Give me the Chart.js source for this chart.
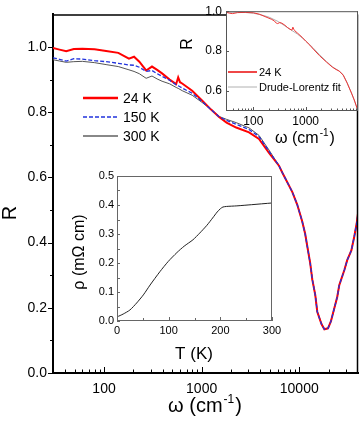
<!DOCTYPE html>
<html>
<head>
<meta charset="utf-8">
<script src="https://cdn.jsdelivr.net/npm/chart.js@4.4.0/dist/chart.umd.min.js"></script>
<style>
  html, body { margin: 0; padding: 0; background: #fff; }
  #wrap { position: relative; width: 360px; height: 434px; overflow: hidden; }
  #wrap canvas { position: absolute; }
</style>
</head>
<body>
<div id="wrap">
  <canvas id="main" width="360" height="434" style="left:0;top:0"></canvas>
  <canvas id="inset-r" width="180" height="150" style="left:180px;top:0"></canvas>
  <canvas id="inset-rho" width="230" height="200" style="left:60px;top:165px"></canvas>
</div>
<script>
const FONT = "'Liberation Sans', Arial, sans-serif";
Chart.defaults.font.family = FONT;
Chart.defaults.color = '#000';
Chart.defaults.animation = false;

// --- main panel: R(omega) at three temperatures ---
const omegaLow = [30, 35, 41, 49, 60, 80, 105, 140, 180, 203, 230, 270, 310, 350, 393, 470, 548, 575, 600, 632, 800, 1010, 1250, 1510, 1800, 2260, 3060, 3870, 4900];
const r24Low   = [0.997, 0.992, 0.987, 0.994, 0.995, 0.993, 0.988, 0.982, 0.964, 0.970, 0.955, 0.928, 0.940, 0.930, 0.919, 0.900, 0.886, 0.907, 0.892, 0.888, 0.866, 0.836, 0.808, 0.785, 0.768, 0.753, 0.738, 0.718, 0.675];
const r150Low  = [0.967, 0.962, 0.957, 0.964, 0.963, 0.958, 0.955, 0.950, 0.945, 0.944, 0.938, 0.925, 0.928, 0.918, 0.910, 0.898, 0.884, 0.881, 0.878, 0.874, 0.858, 0.833, 0.808, 0.786, 0.775, 0.763, 0.747, 0.725, 0.680];
const r300Low  = [0.961, 0.957, 0.953, 0.955, 0.956, 0.952, 0.946, 0.940, 0.930, 0.925, 0.918, 0.904, 0.911, 0.902, 0.895, 0.887, 0.876, 0.873, 0.870, 0.866, 0.852, 0.830, 0.808, 0.787, 0.778, 0.768, 0.752, 0.729, 0.684];
// above ~6000 cm-1 the three curves lie on top of each other
const omegaHigh = [6200, 6700, 8500, 9550, 10700, 11500, 12100, 12950, 13600, 14600, 15300, 16900, 18100, 19700, 21100, 22800, 24500, 25700, 29000, 31000, 34200, 36600, 38700, 40000];
const rHigh     = [0.636, 0.615, 0.555, 0.516, 0.466, 0.427, 0.388, 0.337, 0.287, 0.239, 0.188, 0.150, 0.134, 0.137, 0.158, 0.197, 0.233, 0.269, 0.316, 0.346, 0.376, 0.418, 0.457, 0.490];
const mainXTicks = [30, 40, 50, 60, 70, 80, 90, 100, 200, 300, 400, 500, 600, 700, 800, 900, 1000, 2000, 3000, 4000, 5000, 6000, 7000, 8000, 9000, 10000, 20000, 30000];
const mainXLabels = [100, 1000, 10000];
const mainYTicks = [0, 0.1, 0.2, 0.3, 0.4, 0.5, 0.6, 0.7, 0.8, 0.9, 1.0];
const mainYLabels = [0, 0.2, 0.4, 0.6, 0.8, 1.0];
const mainLegend = ['24 K', '150 K', '300 K'];

// --- upper inset: 24 K data and Drude-Lorentz fit ---
const insetOmega = [30, 35, 40, 50, 70, 100, 130, 160, 190, 220, 250, 275, 290, 320, 350, 400, 450, 500, 545, 570, 590, 620, 700, 850, 1000, 1200, 1400, 1840, 2500, 3230, 3800, 4380, 5200, 6200, 7500, 8500, 10000];
const insetR24   = [0.995, 0.990, 0.988, 0.993, 0.994, 0.992, 0.985, 0.975, 0.967, 0.960, 0.952, 0.940, 0.938, 0.943, 0.940, 0.930, 0.918, 0.910, 0.905, 0.920, 0.910, 0.902, 0.890, 0.870, 0.850, 0.830, 0.810, 0.777, 0.745, 0.720, 0.708, 0.700, 0.680, 0.640, 0.590, 0.555, 0.500];
const fitOmega = [30, 60, 100, 150, 200, 300, 500, 700, 1000, 1400, 1840, 2500, 3230, 4380, 5200, 6200, 7500, 8500, 10000];
const fitR     = [0.995, 0.995, 0.990, 0.980, 0.970, 0.948, 0.910, 0.885, 0.852, 0.815, 0.782, 0.748, 0.722, 0.700, 0.682, 0.642, 0.590, 0.553, 0.500];
const insetXTicks = [30, 40, 50, 60, 70, 80, 90, 100, 200, 300, 400, 500, 600, 700, 800, 900, 1000, 2000, 3000, 4000, 5000, 6000, 7000, 8000, 9000];
const insetXLabels = [100, 1000];
const insetYTicks = [0.6, 0.7, 0.8, 0.9, 1.0];
const insetYLabels = [0.6, 0.8, 1.0];
const insetLegend = ['24 K', 'Drude-Lorentz fit'];

// --- lower inset: resistivity rho(T) ---
const tempK = [0, 12, 25, 38, 51, 64, 83, 99, 116, 130, 147, 160, 174, 185, 194, 200, 205, 212, 232, 260, 300];
const rhoT  = [0.014, 0.024, 0.038, 0.062, 0.090, 0.124, 0.170, 0.205, 0.236, 0.258, 0.280, 0.303, 0.330, 0.355, 0.376, 0.387, 0.393, 0.395, 0.397, 0.401, 0.407];
const rhoXTicks = [0, 50, 100, 150, 200, 250, 300];
const rhoXLabels = [0, 100, 200, 300];
const rhoYTicks = [0, 0.05, 0.1, 0.15, 0.2, 0.25, 0.3, 0.35, 0.4, 0.45, 0.5];
const rhoYLabels = [0, 0.1, 0.2, 0.3, 0.4, 0.5];

function pts(xs, ys) {
  return xs.map((x, i) => ({ x: x, y: ys[i] }));
}
function has(list, v) {
  return list.some(l => Math.abs(l - v) < 1e-9);
}

// tick marks through the scale, in or out of the plot
function drawTicks(chart, id, values, isMajor, majorLen, minorLen, inward, color) {
  const s = chart.scales[id];
  const a = chart.chartArea;
  const ctx = chart.ctx;
  ctx.save();
  ctx.strokeStyle = color;
  ctx.lineWidth = 1;
  ctx.beginPath();
  values.forEach(v => {
    const len = isMajor(v) ? majorLen : minorLen;
    const p = Math.round(s.getPixelForValue(v)) + 0.5;
    if (s.isHorizontal()) {
      const y0 = a.bottom;
      ctx.moveTo(p, y0);
      ctx.lineTo(p, inward ? y0 - len : y0 + len);
    } else {
      const x0 = a.left;
      ctx.moveTo(x0, p);
      ctx.lineTo(inward ? x0 + len : x0 - len, p);
    }
  });
  ctx.stroke();
  ctx.restore();
}

function frame(chart, color, width, sides) {
  const a = chart.chartArea;
  const ctx = chart.ctx;
  ctx.save();
  ctx.strokeStyle = color;
  ctx.lineWidth = width;
  ctx.beginPath();
  if (sides.includes('top')) { ctx.moveTo(a.left, a.top + 0.5); ctx.lineTo(a.right, a.top + 0.5); }
  if (sides.includes('right')) { ctx.moveTo(a.right - 0.5, a.top); ctx.lineTo(a.right - 0.5, a.bottom); }
  if (sides.includes('left')) { ctx.moveTo(a.left + 0.5, a.top); ctx.lineTo(a.left + 0.5, a.bottom); }
  if (sides.includes('bottom')) { ctx.moveTo(a.left, a.bottom - 0.5); ctx.lineTo(a.right, a.bottom - 0.5); }
  ctx.stroke();
  ctx.restore();
}

// "ω (cm-1)" with a raised exponent
function omegaTitle(ctx, cx, baseline, size) {
  const big = size + 'px ' + FONT;
  const small = Math.round(size * 0.62) + 'px ' + FONT;
  ctx.save();
  ctx.fillStyle = '#000';
  ctx.textBaseline = 'alphabetic';
  ctx.textAlign = 'left';
  ctx.font = big;
  const w1 = ctx.measureText('ω (cm').width;
  const w3 = ctx.measureText(')').width;
  ctx.font = small;
  const w2 = ctx.measureText('-1').width;
  let x = cx - (w1 + w2 + w3 + 2) / 2;
  ctx.font = big;
  ctx.fillText('ω (cm', x, baseline);
  x += w1 + 1;
  ctx.font = small;
  ctx.fillText('-1', x, baseline - size * 0.45);
  x += w2 + 1;
  ctx.font = big;
  ctx.fillText(')', x, baseline);
  ctx.restore();
}

function vText(ctx, text, cx, cy, size) {
  ctx.save();
  ctx.translate(cx, cy);
  ctx.rotate(-Math.PI / 2);
  ctx.font = size + 'px ' + FONT;
  ctx.fillStyle = '#000';
  ctx.textAlign = 'center';
  ctx.textBaseline = 'middle';
  ctx.fillText(text, 0, 0);
  ctx.restore();
}

function legendRow(ctx, ds, x1, x2, y, label, size, tx, widthScale) {
  ctx.save();
  ctx.strokeStyle = ds.legendColor || ds.borderColor;
  ctx.lineWidth = ds.legendWidth || ds.borderWidth;
  ctx.setLineDash(ds.borderDash || []);
  ctx.beginPath();
  ctx.moveTo(x1, y);
  ctx.lineTo(x2, y);
  ctx.stroke();
  ctx.setLineDash([]);
  ctx.font = size + 'px ' + FONT;
  ctx.fillStyle = '#000';
  ctx.textBaseline = 'middle';
  ctx.fillText(label, tx, y + 1);
  ctx.restore();
}

const whiteArea = {
  id: 'whiteArea',
  beforeDraw(chart) {
    const a = chart.chartArea;
    chart.ctx.save();
    chart.ctx.fillStyle = '#fff';
    chart.ctx.fillRect(a.left, a.top, a.right - a.left, a.bottom - a.top);
    chart.ctx.restore();
  }
};

// main chart
new Chart(document.getElementById('main'), {
  type: 'scatter',
  data: {
    datasets: [
      { label: mainLegend[1], data: pts(omegaLow.concat(omegaHigh), r150Low.concat(rHigh)), showLine: true,
        borderColor: '#2233dd', borderWidth: 1.3, borderDash: [4, 2], order: 0, legendWidth: 1.5 },
      { label: mainLegend[0], data: pts(omegaLow.concat(omegaHigh), r24Low.concat(rHigh)), showLine: true,
        borderColor: '#ff0000', borderWidth: 2, order: 1, legendWidth: 2.5 },
      { label: mainLegend[2], data: pts(omegaLow.concat(omegaHigh), r300Low.concat(rHigh)), showLine: true,
        borderColor: '#555555', borderWidth: 1, order: 2, legendColor: '#888888', legendWidth: 2 }
    ]
  },
  options: {
    responsive: false,
    devicePixelRatio: 1,
    layout: { padding: { top: 3, right: 2, left: 0, bottom: 0 }, autoPadding: false },
    elements: { point: { radius: 0 }, line: { tension: 0 } },
    scales: {
      x: {
        type: 'logarithmic', min: 30, max: 40000,
        afterBuildTicks: s => { s.ticks = mainXTicks.map(v => ({ value: v })); },
        afterFit: s => { s.height = 61; },
        ticks: { autoSkip: false, maxRotation: 0, padding: 8, font: { size: 14 },
          callback: v => has(mainXLabels, v) ? String(v) : '' },
        grid: { display: false, drawTicks: false },
        border: { display: true, color: '#000', width: 2 }
      },
      y: {
        min: 0, max: 1.1,
        afterBuildTicks: s => { s.ticks = mainYTicks.map(v => ({ value: v })); },
        afterFit: s => { s.width = 53; },
        ticks: { padding: 6, font: { size: 14 },
          callback: v => has(mainYLabels, v) ? v.toFixed(1) : '' },
        grid: { display: false, drawTicks: false },
        border: { display: true, color: '#000', width: 2 }
      }
    },
    plugins: { legend: { display: false }, tooltip: { enabled: false } }
  },
  plugins: [{
    id: 'mainDecor',
    afterDraw(chart) {
      const ctx = chart.ctx;
      frame(chart, '#000', 1.5, ['top', 'right']);
      drawTicks(chart, 'x', mainXTicks, v => has(mainXLabels, v), 6, 3.5, true, '#000');
      drawTicks(chart, 'y', mainYTicks, v => has(mainYLabels, v), 5, 3, false, '#000');
      vText(ctx, 'R', 10, 213, 20);
      omegaTitle(ctx, 205, 412, 20);
      const ds = chart.data.datasets;
      legendRow(ctx, ds[1], 83, 118, 98, ds[1].label, 14, 123);
      legendRow(ctx, ds[0], 83, 118, 117, ds[0].label, 14, 123);
      legendRow(ctx, ds[2], 83, 118, 136, ds[2].label, 14, 123);
    }
  }]
});

// upper inset
new Chart(document.getElementById('inset-r'), {
  type: 'scatter',
  data: {
    datasets: [
      { label: insetLegend[0], data: pts(insetOmega, insetR24), showLine: true,
        borderColor: '#ee3333', borderWidth: 1, order: 0, legendWidth: 1.8 },
      { label: insetLegend[1], data: pts(fitOmega, fitR), showLine: true,
        borderColor: '#b0b0b0', borderWidth: 1, order: 1 }
    ]
  },
  options: {
    responsive: false,
    devicePixelRatio: 1,
    layout: { padding: { top: 4, right: 2, left: 0, bottom: 0 }, autoPadding: false },
    elements: { point: { radius: 0 }, line: { tension: 0 } },
    scales: {
      x: {
        type: 'logarithmic', min: 30, max: 10000,
        afterBuildTicks: s => { s.ticks = insetXTicks.map(v => ({ value: v })); },
        afterFit: s => { s.height = 39; },
        ticks: { autoSkip: false, maxRotation: 0, padding: 3, font: { size: 12 },
          callback: v => has(insetXLabels, v) ? String(v) : '' },
        grid: { display: false, drawTicks: false },
        border: { display: false }
      },
      y: {
        min: 0.5, max: 1.0,
        afterBuildTicks: s => { s.ticks = insetYTicks.map(v => ({ value: v })); },
        afterFit: s => { s.width = 46; },
        ticks: { padding: 4, font: { size: 12 },
          callback: v => has(insetYLabels, v) ? v.toFixed(1) : '' },
        grid: { display: false, drawTicks: false },
        border: { display: false }
      }
    },
    plugins: { legend: { display: false }, tooltip: { enabled: false } }
  },
  plugins: [whiteArea, {
    id: 'insetDecor',
    afterDraw(chart) {
      const ctx = chart.ctx;
      frame(chart, '#555', 1, ['top', 'right', 'left', 'bottom']);
      drawTicks(chart, 'x', insetXTicks, v => has(insetXLabels, v), 4, 2.5, true, '#555');
      drawTicks(chart, 'y', insetYTicks, v => has(insetYLabels, v), 3, 0, true, '#555');
      vText(ctx, 'R', 8, 44, 16);
      omegaTitle(ctx, 125, 143, 16);
      const ds = chart.data.datasets;
      legendRow(ctx, ds[0], 48, 77, 72, ds[0].label, 11, 79);
      legendRow(ctx, ds[1], 48, 77, 87, ds[1].label, 11, 79);
    }
  }]
});

// lower inset
new Chart(document.getElementById('inset-rho'), {
  type: 'scatter',
  data: {
    datasets: [
      { label: 'rho', data: pts(tempK, rhoT), showLine: true,
        borderColor: '#222222', borderWidth: 1, tension: 0.25 }
    ]
  },
  options: {
    responsive: false,
    devicePixelRatio: 1,
    layout: { padding: { top: 11, right: 18, left: 0, bottom: 0 }, autoPadding: false },
    elements: { point: { radius: 0 } },
    scales: {
      x: {
        type: 'linear', min: 0, max: 300,
        afterBuildTicks: s => { s.ticks = rhoXTicks.map(v => ({ value: v })); },
        afterFit: s => { s.height = 44; },
        ticks: { autoSkip: false, maxRotation: 0, padding: 3, font: { size: 11 },
          callback: v => has(rhoXLabels, v) ? String(v) : '' },
        grid: { display: false, drawTicks: false },
        border: { display: false }
      },
      y: {
        min: 0, max: 0.5,
        afterBuildTicks: s => { s.ticks = rhoYTicks.map(v => ({ value: v })); },
        afterFit: s => { s.width = 57; },
        ticks: { padding: 3, font: { size: 11 },
          callback: v => has(rhoYLabels, v) ? v.toFixed(1) : '' },
        grid: { display: false, drawTicks: false },
        border: { display: false }
      }
    },
    plugins: { legend: { display: false }, tooltip: { enabled: false } }
  },
  plugins: [whiteArea, {
    id: 'rhoDecor',
    afterDraw(chart) {
      const ctx = chart.ctx;
      frame(chart, '#666', 1, ['top', 'right', 'left', 'bottom']);
      drawTicks(chart, 'x', rhoXTicks, v => has(rhoXLabels, v), 4, 3, true, '#666');
      drawTicks(chart, 'y', rhoYTicks, v => has(rhoYLabels, v), 3, 3, true, '#666');
      vText(ctx, 'ρ (mΩ cm)', 20, 87, 16);
      ctx.save();
      ctx.font = '17px ' + FONT;
      ctx.fillStyle = '#000';
      ctx.textAlign = 'center';
      ctx.fillText('T (K)', 134, 194);
      ctx.restore();
    }
  }]
});
</script>
</body>
</html>
